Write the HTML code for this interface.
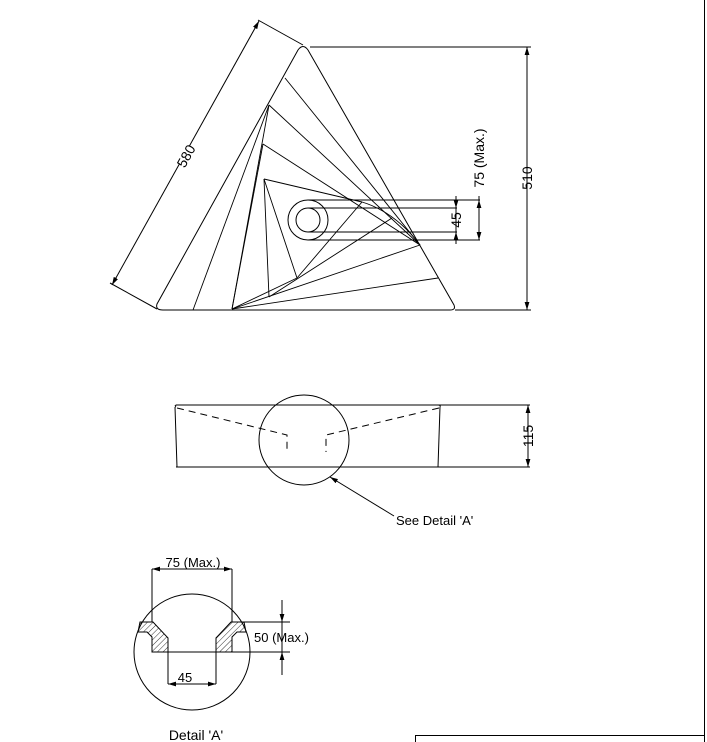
<!DOCTYPE html>
<html><head><style>
html,body{margin:0;padding:0;background:#fff;}
svg{display:block;}
text{font-family:"Liberation Sans",sans-serif;fill:#000;}
</style></head><body>
<svg width="707" height="742" viewBox="0 0 707 742" xmlns="http://www.w3.org/2000/svg">
<defs>
<pattern id="h" width="4" height="4" patternUnits="userSpaceOnUse" patternTransform="rotate(45)">
<line x1="0" y1="0" x2="0" y2="4" stroke="#000" stroke-width="0.8"/>
</pattern>
<marker id="a" viewBox="0 0 10 6" refX="10" refY="3" markerWidth="8" markerHeight="5" orient="auto-start-reverse" markerUnits="userSpaceOnUse">
<path d="M0,0 L10,3 L0,6Z" fill="#000"/>
</marker>
</defs>
<g fill="none" stroke="#000" stroke-width="1">
<line x1="704.5" y1="0" x2="704.5" y2="742"/>
<rect x="415.5" y="735.5" width="289" height="20"/>
<path d="M163,310 L450,310 Q456,310 454,305 L308,50 Q303,43 298,50 L157,304 Q155,310 163,310Z"/>
<g stroke-width="0.9">
<line x1="285" y1="78" x2="420" y2="245"/>
<line x1="269" y1="105" x2="420" y2="245"/>
<line x1="269" y1="105" x2="193" y2="310"/>
<line x1="269" y1="105" x2="232" y2="309"/>
<line x1="263" y1="144" x2="420" y2="245"/>
<line x1="263" y1="144" x2="232" y2="309"/>
<line x1="264" y1="179" x2="362" y2="202"/>
<path d="M362,202 Q395,212 420,245"/>
<line x1="264" y1="179" x2="269" y2="297"/>
<line x1="264" y1="179" x2="297" y2="278"/>
<line x1="297" y1="278" x2="362" y2="202"/>
<line x1="297" y1="278" x2="232" y2="309"/>
<line x1="269" y1="297" x2="392" y2="218"/>
<line x1="232" y1="309" x2="420" y2="245"/>
<line x1="232" y1="309" x2="438" y2="278"/>
</g>
<circle cx="308" cy="220" r="20"/>
<circle cx="308" cy="220" r="12"/>
<line x1="308" y1="200" x2="480" y2="200"/>
<line x1="308" y1="240" x2="480" y2="240"/>
<line x1="308" y1="208" x2="457" y2="208"/>
<line x1="308" y1="232" x2="457" y2="232"/>
<line x1="456" y1="196" x2="456" y2="208" marker-end="url(#a)"/>
<line x1="456" y1="244" x2="456" y2="232" marker-end="url(#a)"/>
<line x1="456" y1="208" x2="456" y2="232"/>
<line x1="479" y1="200" x2="479" y2="240" marker-start="url(#a)" marker-end="url(#a)"/>
<line x1="479" y1="200" x2="479" y2="196"/>
<line x1="310" y1="47" x2="531" y2="47"/>
<line x1="455" y1="310" x2="531" y2="310"/>
<line x1="527" y1="47" x2="527" y2="310" marker-start="url(#a)" marker-end="url(#a)"/>
<line x1="258" y1="20" x2="303" y2="45"/>
<line x1="110" y1="283" x2="157" y2="309"/>
<line x1="112" y1="285" x2="259" y2="21" marker-start="url(#a)" marker-end="url(#a)"/>
<path d="M176,405 L530,405"/>
<path d="M176,467 L530,467"/>
<path d="M176,407 Q174,405 177,405 M175,407 L177,467"/>
<path d="M440,407 Q441,405 438,405 M440,407 L438,467"/>
<g stroke-dasharray="7,5">
<path d="M177,408 L287,435 L287,452"/>
<path d="M439,408 L326,435 L326,452"/>
</g>
<circle cx="304" cy="440" r="45"/>
<line x1="528" y1="405" x2="528" y2="467" marker-start="url(#a)" marker-end="url(#a)"/>
<line x1="394" y1="516" x2="330" y2="477" marker-end="url(#a)"/>
<circle cx="192" cy="652" r="58"/>
<path d="M140,622 L153,622 L168,638 L168,652 L152,652 L152,637 L147,632 L138,632Z" fill="url(#h)"/>
<path d="M244,622 L231,622 L216,638 L216,652 L232,652 L232,637 L237,632 L246,632Z" fill="url(#h)"/>
<line x1="152" y1="652" x2="290" y2="652"/>
<line x1="232" y1="622" x2="290" y2="622"/>
<line x1="152" y1="569" x2="152" y2="622"/>
<line x1="232" y1="569" x2="232" y2="622"/>
<line x1="152" y1="569" x2="232" y2="569" marker-start="url(#a)" marker-end="url(#a)"/>
<line x1="168" y1="652" x2="168" y2="684"/>
<line x1="216" y1="652" x2="216" y2="684"/>
<line x1="168" y1="684" x2="216" y2="684" marker-start="url(#a)" marker-end="url(#a)"/>
<line x1="282" y1="600" x2="282" y2="622" marker-end="url(#a)"/>
<line x1="282" y1="675" x2="282" y2="652" marker-end="url(#a)"/>
<line x1="282" y1="622" x2="282" y2="652"/>
</g>
<rect x="176" y="142" width="20" height="28" fill="#fff" transform="rotate(-61 186 156)"/>
<text x="186" y="161" font-size="14" transform="rotate(-61 186 156)" text-anchor="middle">580</text>
<text x="532" y="178" font-size="14" transform="rotate(-90 532 178)" text-anchor="middle">510</text>
<text x="461" y="220" font-size="14" transform="rotate(-90 461 220)" text-anchor="middle">45</text>
<text x="484" y="158" font-size="14" transform="rotate(-90 484 158)" text-anchor="middle">75 (Max.)</text>
<text x="533" y="436" font-size="14" transform="rotate(-90 533 436)" text-anchor="middle">115</text>
<text x="396" y="525" font-size="13">See Detail 'A'</text>
<text x="193" y="567" font-size="13" text-anchor="middle">75 (Max.)</text>
<text x="185" y="682" font-size="13" text-anchor="middle">45</text>
<text x="254" y="642" font-size="13">50 (Max.)</text>
<text x="196" y="740" font-size="14" text-anchor="middle">Detail 'A'</text>
</svg>
</body></html>
